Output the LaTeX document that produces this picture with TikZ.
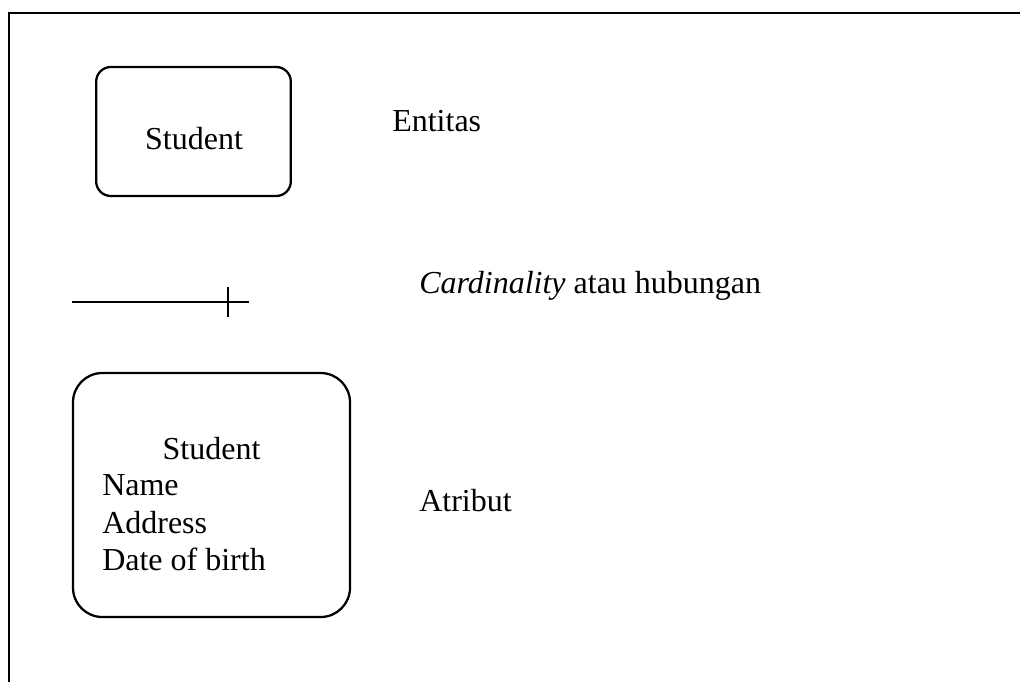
\documentclass[tikz,border=0pt]{standalone}
\usepackage{fontspec}
\setmainfont{Liberation Serif}
\begin{document}
\begin{tikzpicture}[x=0.75pt,y=-0.75pt,
  ink/.style={line width=1.7pt,draw=black},
  rbox/.style={ink,rectangle,inner sep=0pt},
  txt/.style={inner sep=0pt,font=\fontsize{24}{27.75}\selectfont}]
\useasboundingbox (0,0) rectangle (1020,682);
% page frame (open to the right and bottom)
\draw[ink] (1020,13) -- (9,13) -- (9,682);

% entity symbol
\node[rbox,rounded corners=11pt,minimum width=146pt,minimum height=96.75pt] (ent) at (193.5,131.5) {};
\node[txt,anchor=base] (entname) at (194,149) {Student};
\node[txt,anchor=base west] (entlbl) at (392,131) {Entitas};

% cardinality symbol
\coordinate (ca) at (72,302);
\coordinate (cb) at (249,302);
\coordinate (tk) at (228,302);
\draw[ink] (ca) -- (cb);
\draw[ink] ([yshift=-11pt]tk) -- ([yshift=11pt]tk);
\node[txt,anchor=base west] (cardlbl) at (419,293) {\textit{Cardinality} atau hubungan};

% attribute symbol
\node[rbox,rounded corners=22pt,minimum width=207.75pt,minimum height=183pt] (att) at (211.5,495) {};
\node[txt,anchor=base] (atthead) at (211.5,459) {Student};
\node[txt,anchor=base west] (a1) at (102,495) {Name};
\node[txt,anchor=base west] (a2) at (102,533) {Address};
\node[txt,anchor=base west] (a3) at (102,570) {Date of birth};
\node[txt,anchor=base west] (attlbl) at (419,511) {Atribut};
\end{tikzpicture}
\end{document}
